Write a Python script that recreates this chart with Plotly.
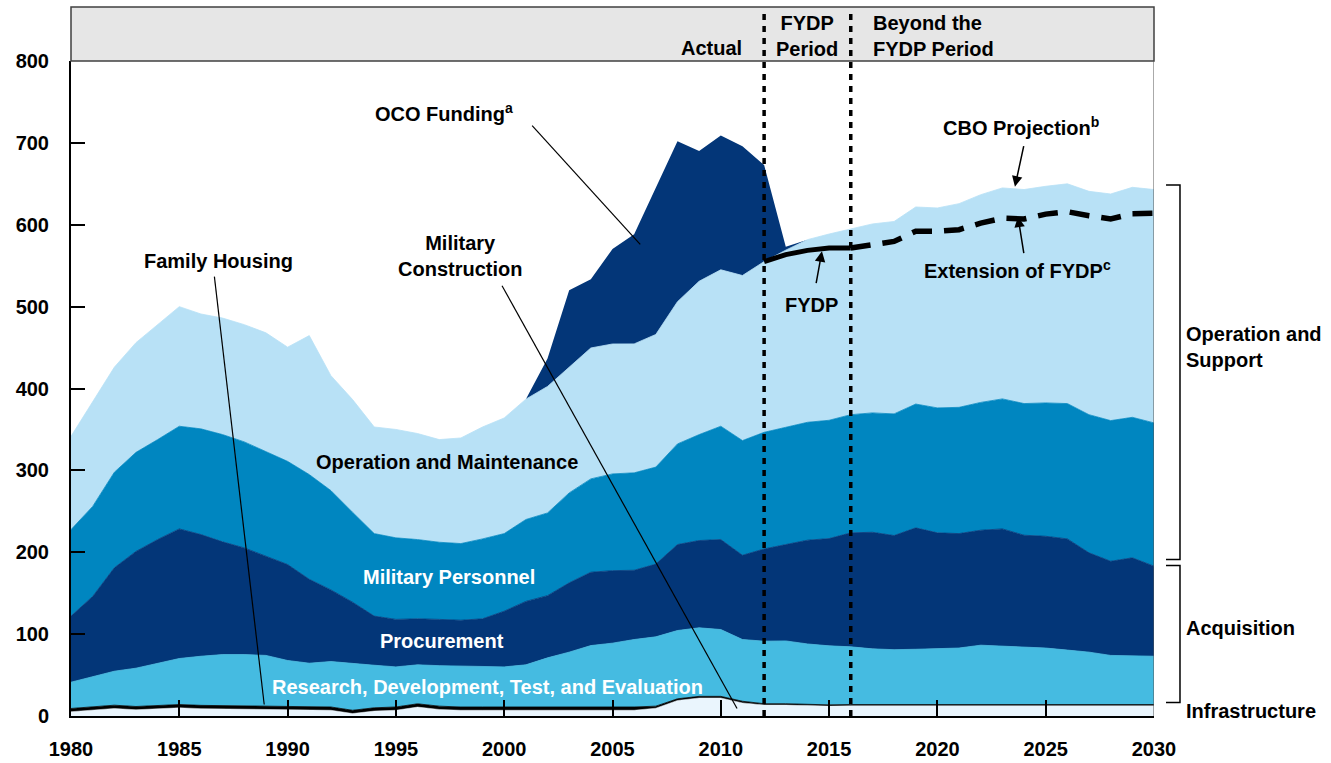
import plotly.graph_objects as go

years = list(range(1980, 2031))

# Infrastructure: military construction and family housing (billions of 2014 dollars)
mil_construction = [5.2, 7.0, 9.2, 7.6, 8.5, 10.0, 9.0, 8.8, 8.5, 8.5,
                    8.0, 8.0, 7.0, 3.0, 6.0, 7.0, 10.9, 8.0, 7.0, 7.0,
                    7.0, 7.0, 7.5, 7.0, 7.0, 6.7, 7.0, 9.5, 19.0, 22.0,
                    22.0, 16.0, 13.5, 13.5, 12.5, 12.1, 12.5, 12.5, 12.5, 12.5,
                    12.5, 12.5, 12.5, 12.5, 12.5, 12.5, 12.5, 12.5, 12.5, 12.5, 12.5]
family_housing = [4.0] * 27 + [2.5] + [2.0] * 4 + [1.5] * 19
rdte = [32.1, 37.0, 41.5, 46.8, 51.5, 56.2, 60.0, 62.2, 62.5, 61.5,
        55.8, 52.5, 55.5, 57.0, 52.0, 49.0, 47.6, 49.5, 50.0, 49.5,
        49.0, 51.5, 59.5, 67.0, 75.0, 78.3, 82.4, 84.7, 83.4, 83.7,
        81.6, 75.4, 76.4, 76.7, 74.0, 72.1, 70.5, 68.0, 67.0, 67.5,
        68.0, 69.0, 72.5, 71.5, 70.5, 69.0, 66.5, 64.0, 60.0, 59.5, 59.0]
procurement = [80.7, 98.0, 126.3, 142.6, 151.5, 158.3, 148.6, 137.7, 130.3, 121.0,
               117.2, 102.5, 87.5, 75.0, 60.0, 58.0, 56.2, 56.5, 56.0, 58.2,
               68.0, 77.5, 76.0, 84.6, 89.6, 88.5, 84.6, 88.8, 105.0, 106.6,
               109.9, 102.9, 112.6, 117.7, 126.7, 131.0, 139.2, 142.4, 139.4, 148.3,
               141.7, 139.8, 140.4, 143.0, 136.3, 136.5, 135.8, 121.3, 115.0, 119.7, 110.0]
mil_personnel = [105.7, 110.0, 116.7, 121.0, 122.1, 125.4, 129.1, 131.0, 129.5, 128.3,
                 126.0, 127.9, 121.3, 109.8, 100.8, 99.6, 96.8, 94.2, 93.6, 97.6,
                 94.8, 100.0, 101.0, 109.9, 114.0, 118.2, 119.0, 118.5, 122.9, 129.4,
                 138.4, 140.1, 142.5, 143.2, 144.0, 144.5, 144.3, 145.8, 148.6, 151.2,
                 152.6, 154.2, 156.1, 158.8, 160.8, 162.9, 165.3, 168.7, 171.8, 171.6, 175.0]
oper_maint = [113.9, 128.0, 128.3, 134.0, 140.4, 146.1, 140.3, 142.3, 143.2, 144.7,
              139.5, 169.7, 140.4, 137.7, 130.2, 132.4, 129.5, 125.4, 129.0, 136.7,
              141.2, 147.0, 154.5, 153.5, 159.9, 158.7, 157.5, 162.0, 173.7, 187.3,
              191.1, 201.6, 208.5, 216.4, 223.1, 227.5, 226.8, 230.8, 235.0, 240.7,
              244.2, 248.8, 253.7, 257.7, 261.4, 264.6, 268.4, 272.8, 276.8, 280.9, 285.0]

oco_years = list(range(2001, 2014))
oco_funding = [0, 34, 94, 84, 116, 134, 179, 196, 159, 164, 158, 118, 4]

fydp_years = [2012, 2013, 2014, 2015, 2016]
fydp_total = [555, 563.5, 568.7, 571.6, 571.6]
ext_years = list(range(2016, 2031))
ext_total = [571.6, 575.7, 579.7, 592, 592, 594, 602, 608, 607, 613, 616, 611, 607, 613.5, 614]

x_ticks = list(range(1980, 2031, 5))
y_ticks = list(range(0, 801, 100))

C_MILCON = "#eaf5fd"
C_RDTE = "#45bbe1"
C_NAVY = "#033678"
C_MILPERS = "#0086c0"
C_OM = "#b8e1f6"

FONT = "Liberation Sans, Arial, Helvetica, sans-serif"

fig = go.Figure()

layers = [
    ("Military Construction", years, mil_construction, C_MILCON, 0.5),
    ("Family Housing", years, family_housing, "#000000", 0.8),
    ("RDT&E", years, rdte, C_RDTE, 0.8),
    ("Procurement", years, procurement, C_NAVY, 0.8),
    ("Military Personnel", years, mil_personnel, C_MILPERS, 0.8),
    ("Operation and Maintenance", years, oper_maint, C_OM, 0.8),
    ("OCO Funding", oco_years, oco_funding, C_NAVY, 0),
]
for name, xs, ys, col, lw in layers:
    fig.add_trace(go.Scatter(
        x=xs, y=ys, name=name, mode="lines", stackgroup="base",
        line=dict(color=col, width=lw), fillcolor=col, hoverinfo="skip"))

fig.add_trace(go.Scatter(x=fydp_years, y=fydp_total, mode="lines",
                         line=dict(color="black", width=5), hoverinfo="skip"))
fig.add_trace(go.Scatter(x=ext_years, y=ext_total, mode="lines",
                         line=dict(color="black", width=5.5, dash="20px,12px"),
                         hoverinfo="skip"))

shapes = []
# header band
shapes.append(dict(type="rect", xref="paper", yref="paper", x0=0, x1=1, y0=1, y1=1.0824,
                   fillcolor="#e6e6e6", line=dict(color="#404040", width=1.5), layer="above"))
# period dividers
for xv in (2012, 2016):
    shapes.append(dict(type="line", xref="x", yref="paper", x0=xv, x1=xv, y0=0, y1=1.076,
                       line=dict(color="black", width=3.5, dash="6px,6px"), layer="above"))
# right border
shapes.append(dict(type="line", xref="x", yref="paper", x0=2030, x1=2030, y0=0, y1=1,
                   line=dict(color="#555555", width=1), layer="above"))
# leader lines
leaders = [
    (2001.29, 721, 2006.28, 576),
    (1999.9, 525.6, 2010.75, 9.2),
    (1986.62, 536.6, 1988.92, 14),
]
for x0, y0, x1, y1 in leaders:
    shapes.append(dict(type="line", xref="x", yref="y", x0=x0, y0=y0, x1=x1, y1=y1,
                       line=dict(color="black", width=1.2), layer="above"))
# brackets on the right
bx, barm = 1.0240, 1.0111
for ytop, ybot in ((0.8108, 0.2388), (0.2296, 0.0206)):
    shapes.append(dict(type="path", xref="paper", yref="paper",
                       path=f"M {barm} {ytop} L {bx} {ytop} L {bx} {ybot} L {barm} {ybot}",
                       line=dict(color="black", width=1.5)))

fig.update_layout(shapes=shapes)

def txt(x, y, s, color="black", xref="x", yref="y", xanchor="center", yanchor="middle", align="center"):
    fig.add_annotation(x=x, y=y, xref=xref, yref=yref, text=s, showarrow=False,
                       xanchor=xanchor, yanchor=yanchor, align=align,
                       font=dict(family=FONT, size=20, color=color, weight="bold"))

txt(1997.24, 736.9, "OCO Funding<sup>a</sup>")
txt(1997.97, 562.3, "Military<br>Construction")
txt(1986.8, 556.1, "Family Housing")
txt(2023.86, 719.8, "CBO Projection<sup>b</sup>")
txt(2023.68, 545, "Extension of FYDP<sup>c</sup>")
txt(2014.2, 502.4, "FYDP")
txt(1997.37, 310.7, "Operation and Maintenance")
txt(1997.43, 170.3, "Military Personnel", color="white")
txt(1997.13, 91, "Procurement", color="white")
txt(1999.23, 36, "Research, Development, Test, and Evaluation", color="white")

# header labels
txt(0.6215, 1.0198, "Actual", xref="paper", yref="paper", xanchor="right")
txt(0.6797, 1.0389, "FYDP<br>Period", xref="paper", yref="paper")
txt(0.7388, 1.0389, "Beyond the<br>FYDP Period", xref="paper", yref="paper", xanchor="left", align="left")
# right-side group labels
txt(1.0277, 0.5629, "Operation and<br>Support", xref="paper", yref="paper", xanchor="left", align="left")
txt(1.0277, 0.135, "Acquisition", xref="paper", yref="paper", xanchor="left", align="left")
txt(1.0277, 0.0069, "Infrastructure", xref="paper", yref="paper", xanchor="left", align="left")

# arrows
arrows = [
    (2023.58, 646.5, 2024.0, 697.8),
    (2023.72, 609.9, 2024.0, 563.5),
    (2014.67, 567.6, 2014.39, 526.9),
]
for hx, hy, tx, ty in arrows:
    fig.add_annotation(x=hx, y=hy, ax=tx, ay=ty, xref="x", yref="y", axref="x", ayref="y",
                       text="", showarrow=True, arrowhead=2, arrowsize=1.4,
                       arrowwidth=1.5, arrowcolor="black")

fig.update_layout(
    width=1331, height=763,
    margin=dict(l=71, r=177, t=61, b=47, autoexpand=False),
    paper_bgcolor="white", plot_bgcolor="white",
    showlegend=False, hovermode=False,
    xaxis=dict(range=[1980, 2030], tickvals=x_ticks, ticks="inside", ticklen=16,
               tickwidth=1.5, tickcolor="black", showline=True, linecolor="black",
               linewidth=2, showgrid=False, zeroline=False, ticklabelstandoff=14,
               automargin=False,
               tickfont=dict(family=FONT, size=20, color="black", weight="bold")),
    yaxis=dict(range=[0, 800], tickvals=y_ticks, ticks="inside", ticklen=14,
               tickwidth=1.5, tickcolor="black", showline=True, linecolor="black",
               linewidth=2, showgrid=False, zeroline=False, ticklabelstandoff=16,
               automargin=False,
               tickfont=dict(family=FONT, size=20, color="black", weight="bold")),
)

fig.write_html("out.html")
